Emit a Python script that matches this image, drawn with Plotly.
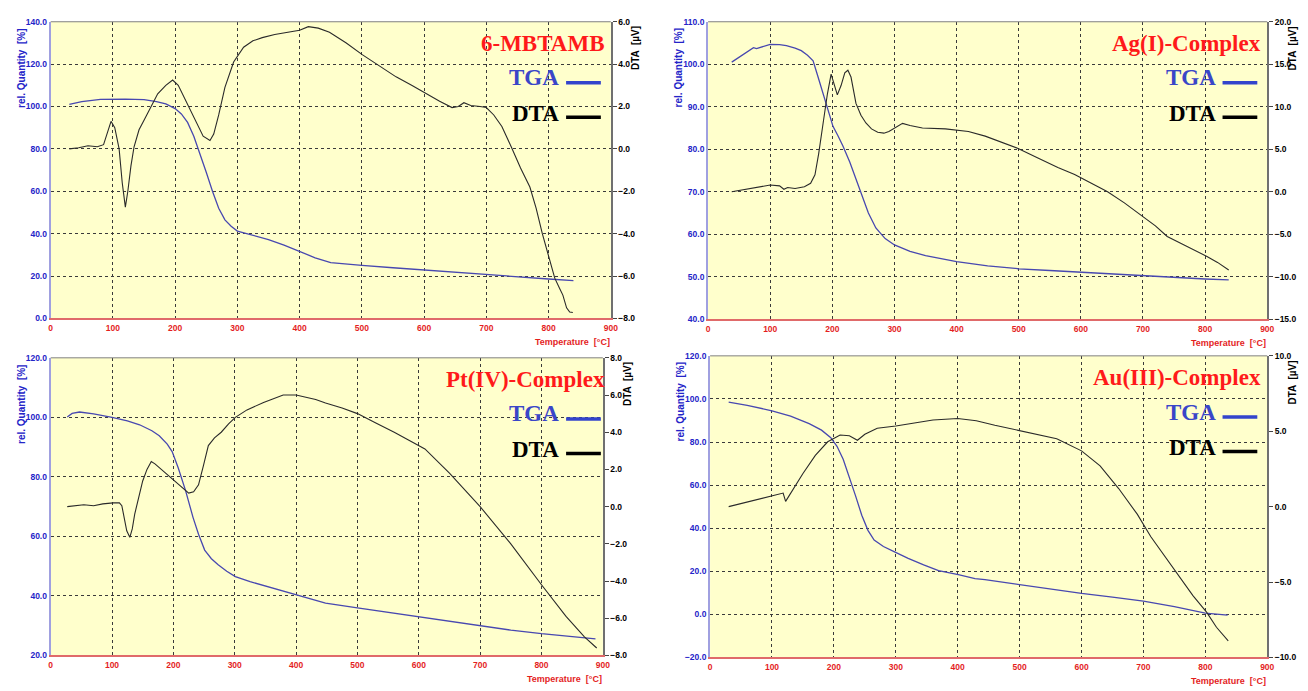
import plotly.graph_objects as go

W, H = 1308, 691

# ---------------- data ----------------
# Panel 1: 6-MBTAMB
tga1_T = [30, 50, 80, 100, 120, 150, 170, 185, 200, 210, 220, 230, 240, 250, 260, 270, 280, 290, 300,
          325, 350, 375, 400, 425, 450, 475, 500, 550, 600, 650, 700, 750, 800, 840]
tga1_V = [101.0, 102.3, 103.4, 103.6, 103.5, 103.2, 102.3, 101.2, 99.0, 96.5, 92.5, 86.0, 78.0, 69.0, 60.0,
          52.0, 46.5, 43.5, 41.2, 39.3, 37.2, 34.6, 31.6, 28.6, 26.3, 25.5, 25.0, 23.9, 22.8, 21.6, 20.5,
          19.5, 18.6, 17.8]
dta1_T = [30, 45, 60, 75, 85, 92, 97, 103, 110, 115, 120, 124, 129, 134, 142, 150, 160, 172, 185, 196,
          205, 215, 225, 235, 245, 256, 262, 270, 280, 294, 310, 325, 340, 360, 380, 400, 414, 430, 448,
          475, 500, 530, 555, 580, 603, 625, 645, 655, 664, 675, 690, 700, 712, 725, 740, 755, 770, 780,
          790, 800, 810, 818, 823, 829, 834, 839]
dta1_V = [0.0, 0.05, 0.15, 0.1, 0.2, 0.8, 1.3, 1.0, 0.0, -1.6, -2.75, -2.0, -0.8, 0.1, 0.9, 1.35, 1.9,
          2.6, 3.0, 3.25, 3.0, 2.4, 1.8, 1.2, 0.6, 0.4, 0.7, 1.6, 2.9, 4.1, 4.8, 5.1, 5.25, 5.4, 5.5, 5.6,
          5.77, 5.7, 5.5, 5.0, 4.46, 3.9, 3.4, 3.0, 2.6, 2.25, 1.95, 2.0, 2.18, 2.05, 2.0, 1.95, 1.6, 1.06,
          0.1, -0.9, -1.8, -2.8, -4.0, -5.1, -6.1, -6.6, -6.9, -7.5, -7.7, -7.72]

# Panel 2: Ag(I)-Complex
tga2_T = [38, 55, 73, 78, 90, 100, 115, 126, 140, 150, 160, 169, 177, 185, 193, 201, 209, 217, 228, 238,
          248, 258, 270, 285, 300, 325, 350, 400, 450, 500, 550, 600, 650, 700, 750, 800, 838]
tga2_V = [100.5, 102.2, 103.9, 103.7, 104.3, 104.7, 104.6, 104.4, 103.8, 103.2, 102.1, 100.8, 97.0, 93.0,
          89.0, 85.4, 83.2, 80.8, 77.0, 73.0, 69.0, 65.0, 61.5, 59.0, 57.5, 56.0, 55.0, 53.6, 52.6, 51.9,
          51.5, 51.1, 50.6, 50.2, 49.8, 49.5, 49.3]
dta2_T = [38, 60, 80, 100, 115, 122, 128, 140, 155, 165, 172, 178, 185, 192, 198, 203, 208, 214, 220, 225,
          230, 238, 246, 254, 263, 273, 283, 291, 300, 313, 325, 345, 382, 419, 446, 470, 499, 530, 563,
          590, 611, 643, 670, 697, 720, 739, 760, 780, 803, 820, 838]
dta2_V = [0.0, 0.3, 0.6, 0.8, 0.7, 0.3, 0.5, 0.4, 0.6, 1.0, 2.0, 4.5, 8.0, 11.5, 13.85, 12.6, 11.4, 12.5,
          14.0, 14.3, 13.5, 10.4, 9.0, 8.1, 7.4, 7.0, 6.9, 7.1, 7.5, 8.05, 7.8, 7.5, 7.4, 7.1, 6.55, 5.9,
          5.1, 4.0, 2.85, 2.05, 1.2, 0.0, -1.3, -2.8, -4.0, -5.25, -6.0, -6.8, -7.6, -8.3, -9.2]

# Panel 3: Pt(IV)-Complex
tga3_T = [27, 35, 47, 70, 100, 125, 145, 165, 177, 190, 198, 208, 220, 232, 241, 251, 262, 273, 287, 301,
          325, 347, 375, 400, 448, 500, 550, 600, 650, 700, 750, 800, 850, 888]
tga3_V = [100.1, 101.3, 101.8, 101.2, 100.0, 98.8, 97.5, 95.5, 93.8, 91.0, 88.5, 83.0, 75.3, 66.4, 60.7,
          55.4, 52.5, 50.5, 48.3, 46.5, 44.8, 43.5, 41.8, 40.2, 37.6, 36.0, 34.5, 33.0, 31.5, 29.8, 28.5,
          27.3, 26.3, 25.6]
dta3_T = [27, 40, 54, 70, 85, 102, 112, 116, 120, 124, 129, 133, 137, 143, 150, 157, 164, 170, 177, 188,
          198, 210, 218, 225, 233, 241, 249, 257, 267, 278, 290, 301, 320, 347, 379, 400, 432, 448, 475,
          500, 530, 560, 610, 650, 700, 750, 800, 840, 870, 890]
dta3_V = [0.0, 0.05, 0.1, 0.05, 0.15, 0.2, 0.2, 0.05, -0.6, -1.3, -1.65, -1.2, -0.4, 0.5, 1.38, 2.0, 2.43,
          2.3, 2.1, 1.8, 1.53, 1.2, 0.95, 0.73, 0.8, 1.17, 2.2, 3.28, 3.7, 4.0, 4.45, 4.8, 5.2, 5.6, 6.0,
          6.0, 5.76, 5.57, 5.3, 5.0, 4.5, 4.0, 3.1, 1.8, 0.0, -2.0, -4.2, -5.9, -7.0, -7.6]

# Panel 4: Au(III)-Complex
tga4_T = [30, 60, 100, 130, 160, 180, 195, 205, 215, 225, 235, 245, 255, 265, 280, 298, 320, 345, 369,
          401, 428, 444, 470, 500, 550, 600, 650, 700, 750, 800, 836]
tga4_V = [98.5, 97.0, 94.5, 92.0, 88.5, 85.5, 82.0, 78.0, 72.0, 64.0, 55.0, 46.0, 39.0, 34.5, 31.5, 29.0,
          26.0, 23.0, 20.3, 18.4, 16.6, 16.1, 15.0, 13.8, 11.8, 9.7, 8.0, 6.1, 3.6, 0.6, -0.4]
dta4_T = [30, 60, 90, 110, 118, 122, 130, 150, 170, 190, 210, 225, 238, 250, 270, 300, 330, 360, 400,
          430, 460, 500, 560, 600, 630, 660, 690, 712, 750, 780, 802, 818, 837]
dta4_V = [0.0, 0.3, 0.6, 0.85, 0.9, 0.35, 0.9, 2.2, 3.4, 4.3, 4.75, 4.7, 4.4, 4.8, 5.2, 5.35, 5.55, 5.75,
          5.85, 5.7, 5.4, 5.05, 4.5, 3.7, 2.7, 1.2, -0.5, -2.0, -4.2, -5.9, -7.0, -8.0, -8.9]

titles = ["6-MBTAMB", "Ag(I)-Complex", "Pt(IV)-Complex", "Au(III)-Complex"]
left_ranges = [(0, 140, 20), (40, 110, 10), (20, 120, 20), (-20, 120, 20)]
right_ranges = [(-8, 6, 2), (-15, 20, 5), (-8, 8, 2), (-10, 10, 5)]
x_range = (0, 900, 100)

# ---------------- layout geometry (pixels) ----------------
boxes = [(49, 613, 17, 318), (711, 1274, 17, 319), (49, 605, 358, 660), (713, 1274, 356, 662)]
legend_right = [613, 1274, 613, 1274]

TGA_LINE = "#4848B0"
DTA_LINE = "#2a2a2a"
BLUE_TXT = "#2424C8"
RED_TXT = "#E41E1E"

fig = go.Figure()
layout = dict(width=W, height=H, margin=dict(l=0, r=0, t=0, b=0),
              paper_bgcolor="white", plot_bgcolor="#FFFFCC", showlegend=False)
annotations = []
shapes = []

def px(x):
    return x / W

def py(y):
    return 1 - y / H

data = [(tga1_T, tga1_V, dta1_T, dta1_V), (tga2_T, tga2_V, dta2_T, dta2_V),
        (tga3_T, tga3_V, dta3_T, dta3_V), (tga4_T, tga4_V, dta4_T, dta4_V)]

for i in range(4):
    x0, x1, y0, y1 = boxes[i]
    lr = legend_right[i]
    xn = "x" if i == 0 else f"x{i+1}"
    yl = "y" if i == 0 else f"y{2*i+1}"
    yr = f"y{2*i+2}"
    xk = "xaxis" if i == 0 else f"xaxis{i+1}"
    ylk = "yaxis" if i == 0 else f"yaxis{2*i+1}"
    yrk = f"yaxis{2*i+2}"
    tT, tV, dT, dV = data[i]
    fig.add_trace(go.Scatter(x=tT, y=tV, xaxis=xn, yaxis=yl, mode="lines",
                             line=dict(color=TGA_LINE, width=1.3), hoverinfo="skip"))
    fig.add_trace(go.Scatter(x=dT, y=dV, xaxis=xn, yaxis=yr, mode="lines",
                             line=dict(color=DTA_LINE, width=1.1), hoverinfo="skip"))
    lo, hi, st = left_ranges[i]
    rlo, rhi, rst = right_ranges[i]
    layout[xk] = dict(domain=[px(x0), px(x1)], anchor=yl, range=[x_range[0], x_range[1]],
                      dtick=x_range[2], tick0=0, showgrid=True, gridcolor="#3a3a3a", griddash="dot",
                      gridwidth=1, zeroline=False, showline=True, linecolor="#E06A6A", linewidth=2,
                      ticks="", tickfont=dict(family="Liberation Sans", size=8.5, color=RED_TXT,
                                              weight="bold"))
    layout[ylk] = dict(domain=[py(y1), py(y0)], anchor=xn, range=[lo, hi], dtick=st, tick0=lo,
                       tickformat=".1f", showgrid=True, gridcolor="#3a3a3a", griddash="dot", gridwidth=1,
                       zeroline=False, showline=True, linecolor="#A0A0E0", linewidth=2, ticks="",
                       tickfont=dict(family="Liberation Sans", size=8.5, color=BLUE_TXT, weight="bold"))
    layout[yrk] = dict(domain=[py(y1), py(y0)], anchor=xn, overlaying=yl, side="right",
                       range=[rlo, rhi], dtick=rst, tick0=rlo, tickformat=".1f", showgrid=False,
                       zeroline=False, showline=True, linecolor="#707070", linewidth=1.5,
                       ticks="outside", ticklen=4, tickcolor="#444444",
                       tickfont=dict(family="Liberation Sans", size=8.5, color="black", weight="bold"))
    # top frame line
    shapes.append(dict(type="line", xref="paper", yref="paper", x0=px(x0), x1=px(x1), y0=py(y0),
                       y1=py(y0), line=dict(color="#808080", width=1)))
    # axis titles
    annotations.append(dict(text="rel. Quantity  [%]", x=px(x0 - 30), y=py(y0 + 47), xref="paper",
                            yref="paper", showarrow=False, textangle=-90, xanchor="center",
                            yanchor="middle", font=dict(family="Liberation Sans", size=10,
                                                        color=BLUE_TXT, weight="bold")))
    annotations.append(dict(text="DTA  [µV]", x=px(x1 + 25), y=py(y0 + 27), xref="paper",
                            yref="paper", showarrow=False, textangle=-90, xanchor="center",
                            yanchor="middle", font=dict(family="Liberation Sans", size=10,
                                                        color="black", weight="bold")))
    annotations.append(dict(text="Temperature  [°C]", x=px(x1 + 1), y=py(y1 + 24), xref="paper",
                            yref="paper", showarrow=False, xanchor="right", yanchor="middle",
                            font=dict(family="Liberation Sans", size=9, color=RED_TXT,
                                      weight="bold")))
    # in-plot legend
    annotations.append(dict(text=titles[i], x=px(lr - 4), y=py(y0 + 22), xref="paper", yref="paper",
                            showarrow=False, xanchor="right", yanchor="middle",
                            font=dict(family="Liberation Serif", size=23, color="#FF1A1A",
                                      weight="bold")))
    annotations.append(dict(text="TGA", x=px(lr - 50), y=py(y0 + 57), xref="paper", yref="paper",
                            showarrow=False, xanchor="right", yanchor="middle",
                            font=dict(family="Liberation Serif", size=23, color="#3A46C8",
                                      weight="bold")))
    annotations.append(dict(text="DTA", x=px(lr - 50), y=py(y0 + 93), xref="paper", yref="paper",
                            showarrow=False, xanchor="right", yanchor="middle",
                            font=dict(family="Liberation Serif", size=23, color="black",
                                      weight="bold")))
    shapes.append(dict(type="line", xref="paper", yref="paper", x0=px(lr - 45), x1=px(lr - 10),
                       y0=py(y0 + 62), y1=py(y0 + 62), line=dict(color="#3344CC", width=3.5)))
    shapes.append(dict(type="line", xref="paper", yref="paper", x0=px(lr - 45), x1=px(lr - 10),
                       y0=py(y0 + 97), y1=py(y0 + 97), line=dict(color="black", width=3.5)))

layout["annotations"] = annotations
layout["shapes"] = shapes
fig.update_layout(**layout)
fig.write_html("out.html")
